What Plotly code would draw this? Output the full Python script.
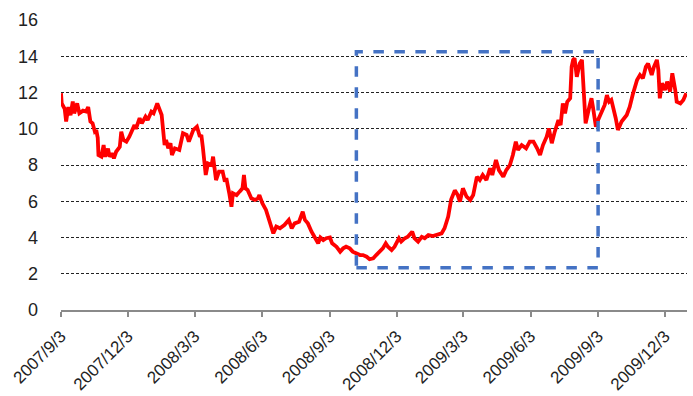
import pandas as pd
import plotly.graph_objects as go

start_date = "2007-09-03"
# trading-day offsets (days since start_date) and price values
day_offsets = [0, 1, 5, 7, 10, 13, 16, 18, 22, 25, 30, 34, 37, 40, 43, 46, 48, 50, 51, 55,
               58, 60, 64, 66, 69, 72, 75, 80, 82, 85, 89, 93, 100, 102, 107, 110, 115, 118, 123, 126,
               131, 134, 137, 141, 143, 146, 149, 151, 155, 161, 166, 171, 174, 180, 185, 189, 191, 193, 197, 200,
               205, 207, 211, 215, 220, 223, 225, 229, 232, 234, 239, 243, 247, 249, 251, 254, 259, 264, 268, 270,
               274, 279, 282, 286, 289, 293, 298, 304, 310, 314, 318, 324, 329, 332, 336, 341, 345, 350, 353, 357,
               361, 366, 369, 375, 380, 384, 388, 393, 397, 402, 407, 411, 416, 420, 425, 429, 434, 438, 442, 445,
               450, 454, 460, 463, 468, 472, 478, 481, 486, 491, 495, 500, 506, 513, 518, 522, 527, 531, 536, 540,
               543, 547, 552, 557, 561, 566, 570, 574, 579, 584, 587, 592, 596, 602, 606, 611, 615, 619, 622, 627,
               633, 638, 643, 648, 652, 656, 661, 664, 668, 672, 677, 680, 683, 686, 689, 693, 695, 697, 699, 702,
               706, 709, 712, 714, 719, 722, 724, 728, 731, 736, 740, 743, 746, 749, 752, 755, 758, 763, 770, 774,
               778, 781, 784, 788, 792, 796, 799, 804, 807, 811, 813, 815, 818, 822, 825, 829, 832, 836, 838, 843,
               847, 851]
prices = [11.96, 11.4, 11.1, 10.4, 11.2, 10.75, 11.5, 10.85, 11.4, 10.85, 11.0, 10.95, 11.2, 10.4, 10.3, 9.85, 9.93, 9.5, 8.55, 8.46,
          9.1, 8.46, 8.9, 8.46, 8.65, 8.37, 8.73, 9.0, 9.84, 9.38, 9.29, 9.56, 10.2, 10.0, 10.58, 10.3, 10.67, 10.48, 10.94, 10.85,
          11.4, 11.03, 10.76, 9.1, 9.38, 8.92, 9.2, 8.55, 8.92, 8.83, 9.75, 9.66, 9.29, 9.93, 10.11, 9.56, 9.66, 9.0, 7.45, 8.09,
          8.0, 8.46, 7.17, 7.63, 7.63, 7.08, 7.27, 6.44, 5.70, 6.44, 6.34, 6.53, 6.71, 7.45, 6.71, 6.62, 6.16, 6.07, 6.16, 6.34,
          5.89, 5.52, 5.15, 4.69, 4.23, 4.6, 4.51, 4.69, 4.97, 4.51, 4.78, 4.87, 5.42, 4.97, 4.78, 4.32, 4.04, 3.68, 4.0, 3.86,
          3.96, 4.0, 3.68, 3.49, 3.22, 3.40, 3.49, 3.40, 3.22, 3.13, 3.03, 3.03, 2.94, 2.80, 2.85, 3.03, 3.22, 3.40, 3.68, 3.49,
          3.31, 3.49, 3.96, 3.77, 3.96, 4.04, 4.32, 3.96, 3.77, 4.04, 3.96, 4.14, 4.08, 4.14, 4.23, 4.51, 5.15, 6.1, 6.6, 6.34,
          5.98, 6.71, 6.25, 6.07, 6.34, 7.35, 7.17, 7.45, 7.17, 7.82, 7.45, 8.28, 7.72, 7.35, 7.72, 8.0, 8.55, 9.29, 8.83, 9.1,
          8.92, 9.29, 9.29, 8.92, 8.55, 9.1, 9.56, 10.02, 9.2, 9.84, 10.48, 10.2, 11.4, 10.85, 11.49, 11.68, 13.42, 13.8, 13.89, 12.87,
          13.6, 13.8, 11.03, 10.3, 11.2, 11.68, 11.2, 10.11, 10.48, 10.94, 11.31, 11.86, 11.49, 11.59, 11.13, 10.58, 9.93, 10.4, 10.76, 11.2,
          11.86, 12.32, 12.69, 12.97, 12.78, 13.42, 13.6, 12.97, 13.42, 13.8, 13.24, 11.68, 12.51, 12.14, 12.6, 12.05, 13.06, 12.14, 11.49, 11.4,
          11.59, 11.96]

tick_dates = ["2007-09-03", "2007-12-03", "2008-03-03", "2008-06-03", "2008-09-03",
              "2008-12-03", "2009-03-03", "2009-06-03", "2009-09-03", "2009-12-03"]
tick_labels = ["2007/9/3", "2007/12/3", "2008/3/3", "2008/6/3", "2008/9/3",
               "2008/12/3", "2009/3/3", "2009/6/3", "2009/9/3", "2009/12/3"]

box_x = ["2008-10-09", "2009-09-03"]
box_y = [2.33, 14.25]

x_range = ["2007-09-03", "2010-01-02"]
y_ticks = [0, 2, 4, 6, 8, 10, 12, 14, 16]

dates = pd.Timestamp(start_date) + pd.to_timedelta(day_offsets, unit="D")

fig = go.Figure()
fig.add_trace(go.Scatter(x=dates, y=prices, mode="lines",
                         line=dict(color="#FF0000", width=3.8), showlegend=False))

fig.add_shape(type="rect", xref="x", yref="y",
              x0=box_x[0], x1=box_x[1], y0=box_y[0], y1=box_y[1],
              line=dict(color="#4472C4", width=3.5, dash="dash"))

yfont = dict(family="Liberation Sans, Arial, sans-serif", size=18, color="#222222")
xfont = dict(family="Liberation Sans, Arial, sans-serif", size=17, color="#222222")

fig.update_layout(
    width=693, height=396,
    margin=dict(l=61, r=6, t=20, b=86),
    paper_bgcolor="white", plot_bgcolor="white",
    font=yfont,
    xaxis=dict(type="date", range=x_range, tickmode="array",
               tickvals=tick_dates, ticktext=tick_labels, tickangle=-45,
               showgrid=False, showline=True, linecolor="#8a8a8a", linewidth=1.5,
               ticks="outside", ticklen=5, tickcolor="#8a8a8a", tickwidth=1.5,
               ticklabelstandoff=3, automargin=False,
               zeroline=False, tickfont=xfont),
    yaxis=dict(range=[0, 16], tickvals=y_ticks, showgrid=True,
               gridcolor="#222222", gridwidth=1, griddash="3px,2px",
               zeroline=False, showline=False, ticks="",
               ticklabelstandoff=22, automargin=False, tickfont=yfont),
)

fig.write_html("out.html")
